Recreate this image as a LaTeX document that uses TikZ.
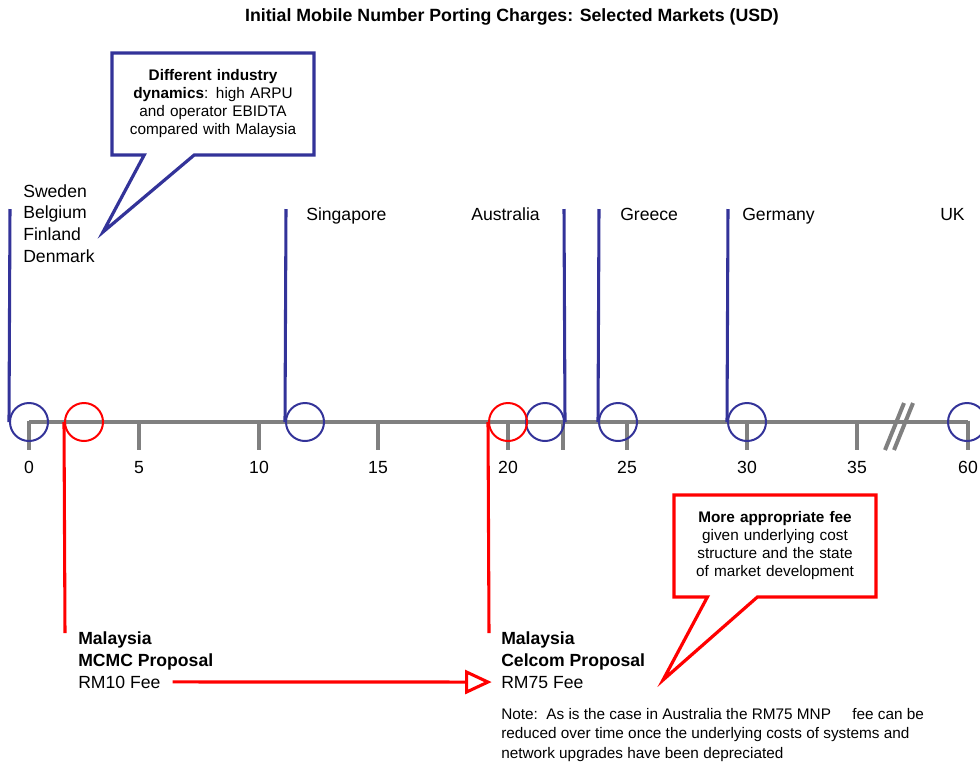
\documentclass[tikz,border=0pt]{standalone}
\usepackage{fontspec}
\setmainfont{Liberation Sans}
\usetikzlibrary{arrows.meta,positioning,shapes.callouts}
\definecolor{mnpblue}{RGB}{51,51,153}
\definecolor{mnpred}{RGB}{255,0,0}
\definecolor{axisgray}{RGB}{128,128,128}

\begin{document}
\begin{tikzpicture}[
    x=0.75pt, y=-0.75pt,
    lbl/.style={inner sep=0, font=\fontsize{13.2}{16.4}\selectfont},
    ring/.style={circle, draw, line width=1.5pt, minimum size=28.5pt, inner sep=0},
    bline/.style={draw=mnpblue, line width=2.3pt},
    rline/.style={draw=mnpred, line width=2.3pt},
    axis/.style={draw=axisgray, line width=3pt},
    bubble/.style={rectangle callout, draw, line width=2.4pt, fill=white, minimum width=151.5pt, minimum height=76.5pt, inner sep=0, text width=145pt, align=center, callout pointer width=37.5pt, font=\fontsize{11.5}{13.5}\selectfont}
]
    \useasboundingbox (0,0) rectangle (980,761);

    \node[font=\fontsize{13.3}{16}\selectfont\bfseries] (title) at (512,17) {Initial Mobile Number Porting Charges: Selected Markets (USD)};

    % axis with ticks
    \draw[axis] (29,422) -- (968,422);
    \foreach \x/\n in {29/0, 139/5, 259/10, 378/15, 508/20, 563/, 627/25, 747/30, 857/35, 968/60} {
        \draw[axis] (\x,420.5) -- (\x,450);
        \node[lbl, anchor=base] (tick-\x) at (\x,473) {\n};
    }
    \draw[axis] (885,450) -- (904,403);
    \draw[axis] (894,450) -- (913,403);

    % markets
    \node[ring, draw=mnpblue] (c-sweden) at (29,422) {};
    \node[ring, draw=mnpblue] (c-singapore) at (305,422) {};
    \node[ring, draw=mnpblue] (c-australia) at (545,422) {};
    \node[ring, draw=mnpblue] (c-greece) at (618,422) {};
    \node[ring, draw=mnpblue] (c-germany) at (747,422) {};
    \node[ring, draw=mnpblue] (c-uk) at (967,422) {};
    \node[ring, draw=mnpred] (c-mcmc) at (84,422) {};
    \node[ring, draw=mnpred] (c-celcom) at (508,422) {};

    \node[lbl, anchor=north west, align=left] (l-sweden) at (23,184) {Sweden\\Belgium\\Finland\\Denmark};
    \node[lbl, anchor=base west] (l-singapore) at (306,220) {Singapore};
    \node[lbl, anchor=base east] (l-australia) at (540,220) {Australia};
    \node[lbl, anchor=base west] (l-greece) at (620,220) {Greece};
    \node[lbl, anchor=base west] (l-germany) at (742,220) {Germany};
    \node[lbl, anchor=base west] (l-uk) at (940,220) {UK};

    \coordinate (t-sweden) at (10,209);
    \coordinate (t-singapore) at (286,209);
    \coordinate (t-australia) at (564,209);
    \coordinate (t-greece) at (599,209);
    \coordinate (t-germany) at (728,209);
    \draw[bline] (t-sweden) -- (c-sweden.west);
    \draw[bline] (t-singapore) -- (c-singapore.west);
    \draw[bline] (t-australia) -- (c-australia.east);
    \draw[bline] (t-greece) -- (c-greece.west);
    \draw[bline] (t-germany) -- (c-germany.west);

    % proposals
    \node[lbl, anchor=north west, align=left, font=\fontsize{13.2}{16.5}\selectfont\bfseries] (p-mcmc) at (78,631) {Malaysia\\MCMC Proposal};
    \node[lbl, anchor=base west] (fee10) at (78,688) {RM10 Fee};
    \node[lbl, anchor=north west, align=left, font=\fontsize{13.2}{16.5}\selectfont\bfseries] (p-celcom) at (501,631) {Malaysia\\Celcom Proposal};
    \node[lbl, anchor=base west] (fee75) at (501,688) {RM75 Fee};

    \coordinate (b-mcmc) at (65,633);
    \coordinate (b-celcom) at (489,633);
    \draw[rline] (c-mcmc.west) -- (b-mcmc);
    \draw[rline] (c-celcom.west) -- (b-celcom);
    \draw[rline, -{Triangle[open, length=20pt, width=18pt]}, shorten <=9pt, shorten >=7pt] (fee10.east) -- (fee75.west);

    \node[inner sep=0, anchor=north west, align=left, font=\fontsize{11.5}{14.6}\selectfont] (note) at (501,708) {Note:\ \ As is the case in Australia the RM75 MNP\ \ \ \ \ fee can be\\reduced over time once the underlying costs of systems and\\network upgrades have been depreciated};

    % callouts
    \coordinate (tip-eu) at (103,232);
    \coordinate (tip-fee) at (663,680);
    \node[bubble, draw=mnpblue, callout absolute pointer={(tip-eu)}] (why-eu) at (213,104) {\textbf{Different industry}\\\textbf{dynamics}: high ARPU\\and operator EBIDTA\\compared with Malaysia};
    \node[bubble, draw=mnpred, callout absolute pointer={(tip-fee)}] (why-fee) at (775,546) {\textbf{More appropriate fee}\\given underlying cost\\structure and the state\\of market development};
\end{tikzpicture}
\end{document}
